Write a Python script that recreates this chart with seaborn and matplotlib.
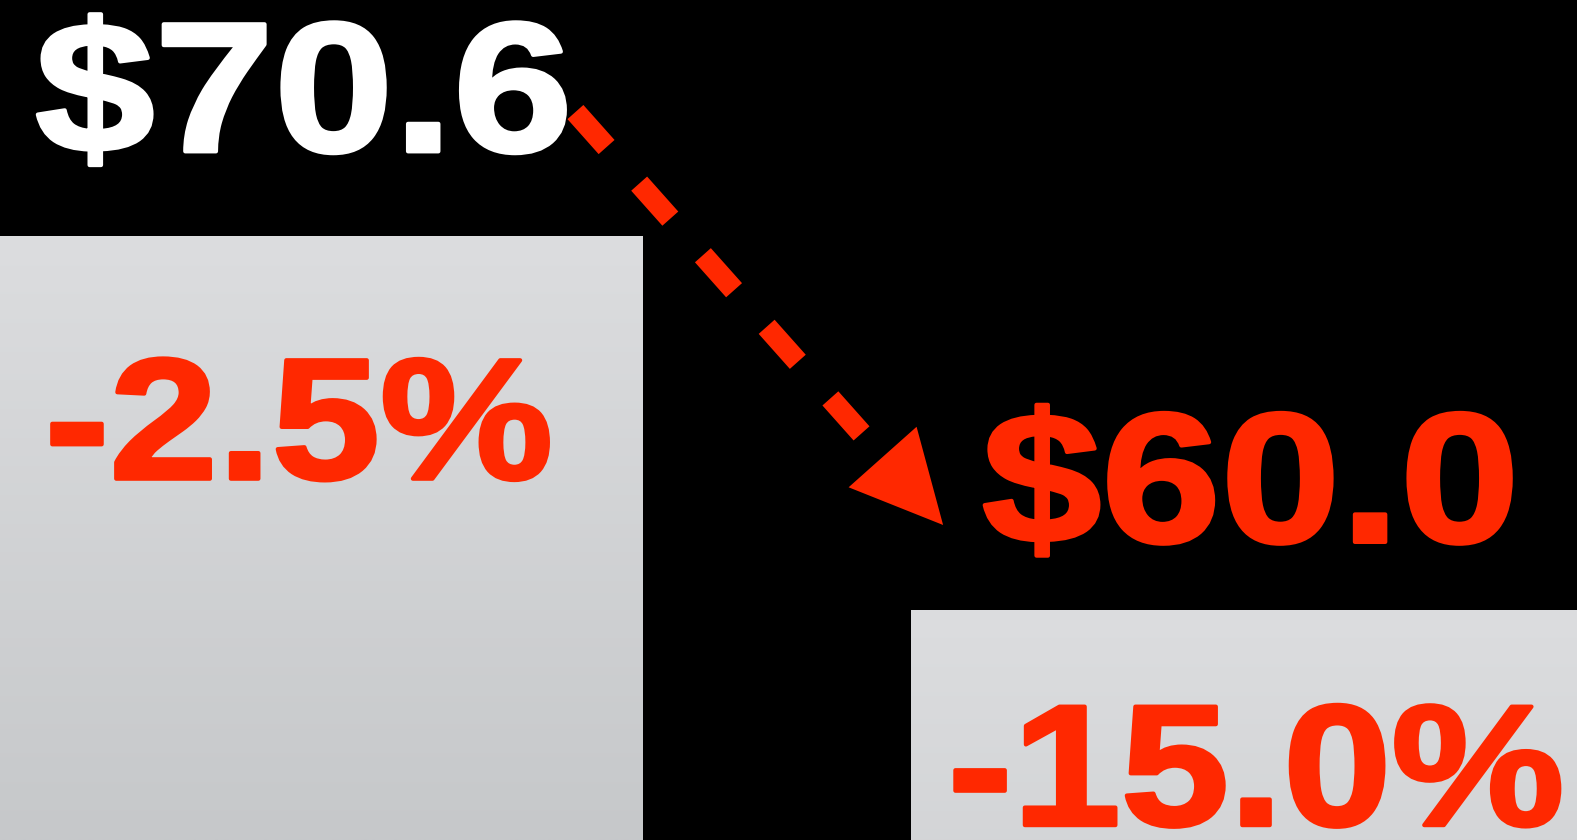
import numpy as np
import matplotlib
matplotlib.use("Agg")
import matplotlib.pyplot as plt
import seaborn as sns
from matplotlib.colors import to_rgb
from matplotlib.patches import FancyArrowPatch
from matplotlib.patheffects import AbstractPathEffect
from matplotlib.transforms import Affine2D

# ---- data -------------------------------------------------------------
periods = ["Prior", "Current"]
prices = [70.6, 60.0]
pct_change = [-2.5, -15.0]

price_labels = [f"${v:.1f}" for v in prices]
change_labels = [f"{v:.1f}%" for v in pct_change]

# ---- style ------------------------------------------------------------
RED = "#ff2800"
BG = "#000000"
BAR_TOP = "#dcdddf"
BAR_BOTTOM = "#c6c8ca"
FONT = "Liberation Sans"

sns.set_theme(style="white")
plt.rcParams["font.family"] = [FONT, "DejaVu Sans"]


class HeavyWide(AbstractPathEffect):
    """Draw glyphs widened horizontally and thickened with an outline of
    the same colour, giving an extended heavy look."""

    def __init__(self, sx, stroke_pt):
        super().__init__()
        self.sx = sx
        self.stroke_pt = stroke_pt
        self.text = None

    def draw_path(self, renderer, gc, tpath, affine, rgbFace=None):
        bb = self.text.get_window_extent(renderer)
        cx = 0.5 * (bb.x0 + bb.x1)
        extra = Affine2D().translate(-cx, 0).scale(self.sx, 1.0).translate(cx, 0)
        gc0 = renderer.new_gc()
        gc0.copy_properties(gc)
        gc0.set_linewidth(self.stroke_pt)
        gc0.set_foreground(rgbFace)
        gc0.set_joinstyle("round")
        renderer.draw_path(gc0, tpath, affine + extra, rgbFace)
        gc0.restore()


fig = plt.figure(figsize=(15.77, 8.40), dpi=100, facecolor=BG)
ax = fig.add_axes([0, 0, 1, 1])
ax.set_facecolor(BG)

sns.barplot(x=periods, y=prices, ax=ax, width=0.72, color=BAR_TOP,
            edgecolor="none", linewidth=0, saturation=1)

ax.set_xlim(-0.3094, 1.3333)
ax.set_ylim(53.46, 77.30)
ax.set_axis_off()

# vertical gradient inside each bar, darkening at a constant rate downward
ymin = ax.get_ylim()[0]
top_rgb = np.array(to_rgb(BAR_TOP))
bot_rgb = np.array(to_rgb(BAR_BOTTOM))
rate = (bot_rgb - top_rgb) / (max(prices) - ymin)
for patch, val in zip(ax.patches, prices):
    x0 = patch.get_x()
    x1 = x0 + patch.get_width()
    t = np.linspace(0, 1, 256)[:, None]
    end_rgb = top_rgb + rate * (val - ymin)
    grad = top_rgb[None, :] * (1 - t) + end_rgb[None, :] * t
    img = ax.imshow(grad[:, None, :], extent=[x0, x1, ymin, val],
                    aspect="auto", origin="upper", interpolation="bilinear",
                    zorder=1)
    img.set_clip_path(patch)
    patch.set_facecolor("none")

# dashed arrow from the first price to the second
start = np.array([0 + 0.29, prices[0] + 3.52])
tip = np.array([1 - 0.327, prices[1] + 2.40])
to_disp = ax.transData
s_d = to_disp.transform(start)
t_d = to_disp.transform(tip)
u = (t_d - s_d) / np.hypot(*(t_d - s_d))
head_len_px = 91.0
head_half_px = 45.5
base = to_disp.inverted().transform(t_d - u * head_len_px)

lw_pt = 21.3 * 72 / fig.dpi
ax.plot([start[0], base[0]], [start[1], base[1]], color=RED, lw=lw_pt,
        linestyle=(0, (2.2, 2.3)), dash_capstyle="butt", zorder=4)
pt = 72 / fig.dpi
head = FancyArrowPatch(
    posA=tuple(base), posB=tuple(tip),
    arrowstyle=f"-|>,head_length={head_len_px * pt:.2f},head_width={head_half_px * pt:.2f}",
    mutation_scale=1, shrinkA=0, shrinkB=0, color=RED, lw=0, zorder=4)
ax.add_patch(head)

# labels
price_style = [dict(color="white", dx=5.0, dy=61.0),
               dict(color=RED, dx=-4.5, dy=48.7)]
change_style = [dict(dx=1.3, dy=-174.7), dict(dx=-0.7, dy=-155.2)]

for i, (lab, val, st) in enumerate(zip(price_labels, prices, price_style)):
    eff = HeavyWide(1.163, 3.0)
    txt = ax.annotate(lab, xy=(i, val), xytext=(st["dx"], st["dy"]),
                      textcoords="offset points", ha="center", va="baseline",
                      fontsize=133, fontweight="bold", color=st["color"],
                      zorder=6, path_effects=[eff])
    eff.text = txt

for i, (lab, val, st) in enumerate(zip(change_labels, prices, change_style)):
    eff = HeavyWide(1.13, 3.0)
    txt = ax.annotate(lab, xy=(i, val), xytext=(st["dx"], st["dy"]),
                      textcoords="offset points", ha="center", va="baseline",
                      fontsize=124, fontweight="bold", color=RED,
                      zorder=6, path_effects=[eff])
    eff.text = txt

fig.savefig("out.png", dpi=100, facecolor=BG)
